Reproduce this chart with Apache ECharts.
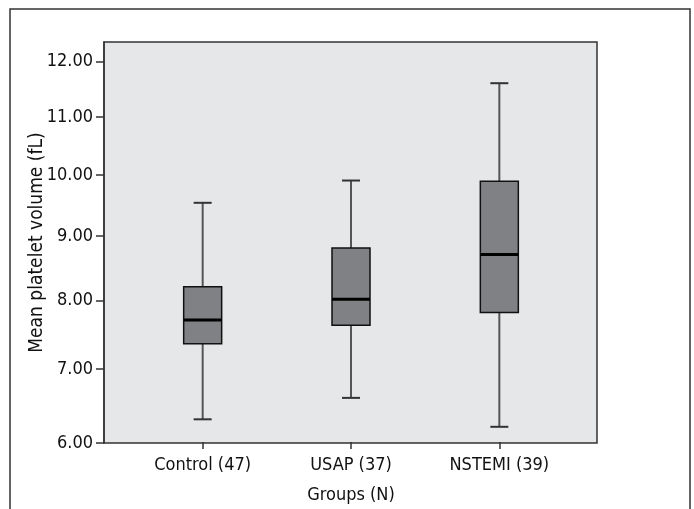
<!DOCTYPE html>
<html>
<head>
<meta charset="utf-8">
<script src="https://cdn.jsdelivr.net/npm/echarts@6/dist/echarts.min.js"></script>
<style>
  html, body { margin: 0; padding: 0; background: #fff; }
  #chart { width: 694px; height: 509px; }
</style>
</head>
<body>
<div id="chart"></div>
<script>
// groups and their box statistics (fL)
const groups = ['Control (47)', 'USAP (37)', 'NSTEMI (39)'];
const mins    = [6.30, 6.59, 6.20];
const q1s     = [7.35, 7.62, 7.81];
const medians = [7.70, 8.01, 8.70];
const q3s     = [8.20, 8.80, 9.89];
const maxs    = [9.53, 9.90, 11.60];
const yTicks  = [6, 7, 8, 9, 10, 11, 12];
const yMax = 12.36;

// the figure's value axis is square-root spaced
const sq = v => Math.sqrt(v);
const FONT = "'Liberation Sans Narrow', 'DejaVu Sans Condensed', 'Roboto', sans-serif";

const chart = echarts.init(document.getElementById('chart'));

const boxData = groups.map((g, i) => [i, sq(mins[i]), sq(q1s[i]), sq(medians[i]), sq(q3s[i]), sq(maxs[i])]);

function renderBox(params, api) {
    const i = api.value(0);
    const pMin = api.coord([i, api.value(1)]);
    const pQ1 = api.coord([i, api.value(2)]);
    const pMed = api.coord([i, api.value(3)]);
    const pQ3 = api.coord([i, api.value(4)]);
    const pMax = api.coord([i, api.value(5)]);
    const x = pMed[0];
    const hw = 19, cw = 9;
    const whisker = { stroke: '#555', lineWidth: 2 };
    return {
        type: 'group',
        children: [
            { type: 'line', shape: { x1: x, y1: pQ3[1], x2: x, y2: pMax[1] }, style: whisker },
            { type: 'line', shape: { x1: x, y1: pQ1[1], x2: x, y2: pMin[1] }, style: whisker },
            { type: 'line', shape: { x1: x - cw, y1: pMax[1], x2: x + cw, y2: pMax[1] }, style: { stroke: '#333', lineWidth: 2 } },
            { type: 'line', shape: { x1: x - cw, y1: pMin[1], x2: x + cw, y2: pMin[1] }, style: { stroke: '#333', lineWidth: 2 } },
            { type: 'rect', shape: { x: x - hw, y: pQ3[1], width: hw * 2, height: pQ1[1] - pQ3[1] },
              style: { fill: '#808184', stroke: '#111', lineWidth: 1.5 } },
            { type: 'line', shape: { x1: x - hw, y1: pMed[1], x2: x + hw, y2: pMed[1] }, style: { stroke: '#000', lineWidth: 3 } }
        ]
    };
}

chart.setOption({
    animation: false,
    backgroundColor: '#fff',
    textStyle: { fontFamily: FONT },
    graphic: [{
        type: 'rect',
        shape: { x: 10, y: 9, width: 680, height: 530 },
        style: { fill: 'none', stroke: '#333', lineWidth: 1.5 }
    }],
    grid: [
        { left: 104, top: 42, right: 97, bottom: 66, show: true, backgroundColor: '#e6e7e9', borderColor: '#333', borderWidth: 1.5 },
        { left: 128.5, top: 42, right: 120.5, bottom: 66 }
    ],
    xAxis: [
        { gridIndex: 0, type: 'category', data: groups, show: false },
        {
            gridIndex: 1, type: 'category', data: groups,
            axisLine: { show: false },
            axisTick: { show: true, alignWithLabel: true, length: 7, lineStyle: { color: '#333', width: 1.5 } },
            axisLabel: { fontSize: 18, color: '#111', margin: 14, fontFamily: FONT },
            name: 'Groups (N)', nameLocation: 'middle', nameGap: 44,
            nameTextStyle: { fontSize: 18, color: '#111', fontFamily: FONT }
        }
    ],
    yAxis: [
        {
            gridIndex: 0, type: 'value', min: sq(yTicks[0]), max: sq(yMax),
            splitLine: { show: false },
            axisLine: { show: true, lineStyle: { color: '#333', width: 1.5 } },
            axisTick: { show: true, length: 8, customValues: yTicks.map(sq), lineStyle: { color: '#333', width: 1.5 } },
            axisLabel: {
                fontSize: 18, color: '#111', margin: 11, fontFamily: FONT,
                customValues: yTicks.map(sq),
                formatter: v => (v * v).toFixed(2)
            },
            name: 'Mean platelet volume (fL)', nameLocation: 'middle', nameGap: 57,
            nameMoveOverlap: false,
            nameTextStyle: { fontSize: 19, color: '#111', fontFamily: FONT }
        },
        { gridIndex: 1, type: 'value', min: sq(yTicks[0]), max: sq(yMax), show: false }
    ],
    series: [{
        type: 'custom',
        xAxisIndex: 1,
        yAxisIndex: 1,
        renderItem: renderBox,
        encode: { x: 0, y: [1, 2, 3, 4, 5] },
        data: boxData
    }]
});

window.addEventListener('resize', () => chart.resize());
</script>
</body>
</html>
